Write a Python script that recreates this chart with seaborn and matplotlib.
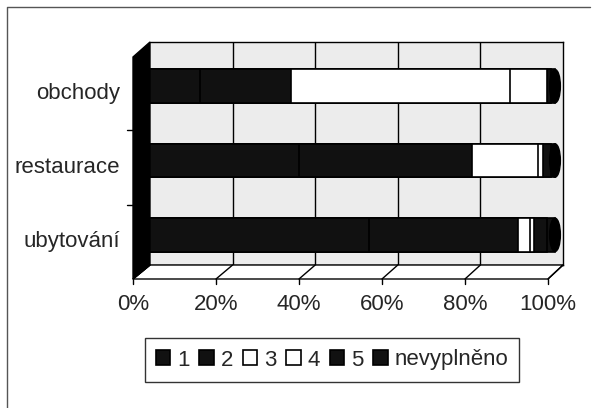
import numpy as np
import pandas as pd
import seaborn as sns
import matplotlib.pyplot as plt
from matplotlib.patches import Patch, Polygon, Ellipse
from matplotlib.transforms import ScaledTranslation, blended_transform_factory

# Data (share of answers in %)
categories = ["obchody", "restaurace", "ubytování"]
series = ["1", "2", "3", "4", "5", "nevyplněno"]
v1 = [14, 38, 55]
v2 = [22, 42, 36]
v3 = [53, 16, 3]
v4 = [9, 1, 1]
v5 = [1, 2, 3]
v_nev = [1, 1, 2]
colors = ["#111111", "#111111", "#ffffff", "#ffffff", "#111111", "#111111"]
xticks = [0, 20, 40, 60, 80, 100]

sns.set_style("white")
plt.rcParams["font.family"] = ["Liberation Sans", "DejaVu Sans"]

fig = plt.figure(figsize=(5.96, 4.08), dpi=100)
# back wall of the 3D chart
ax = fig.add_axes([150 / 596, (408 - 265) / 408, 413 / 596, 223 / 408])
ax.set_facecolor("#ececec")

vals = np.array([v1, v2, v3, v4, v5, v_nev])
cum = vals.cumsum(axis=0)

# stacked bars: draw cumulative totals from the longest to the shortest
for i in range(len(series) - 1, -1, -1):
    df = pd.DataFrame({"cat": categories, "val": cum[i]})
    sns.barplot(data=df, x="val", y="cat", orient="h", color=colors[i],
                width=0.45, edgecolor="black", linewidth=1.2, ax=ax,
                saturation=1, zorder=3)

px = fig.dpi_scale_trans
bar_shift = ScaledTranslation(-8 / 100, -7 / 100, px)
for p in ax.patches:
    p.set_transform(ax.transData + bar_shift)
    p.set_clip_on(False)

# rounded ends of the cylinders
for j in range(len(categories)):
    e = Ellipse((100, j), 2.6, 0.45, facecolor="black", edgecolor="black",
                zorder=4, clip_on=False, transform=ax.transData + bar_shift)
    ax.add_patch(e)

ax.set_xlim(0, 100)
ax.set_ylim(2.5, -0.5)
for x in xticks[1:-1]:
    ax.axvline(x, color="black", lw=1, zorder=1)
for s in ["top", "right", "bottom"]:
    ax.spines[s].set_color("black")
    ax.spines[s].set_linewidth(1)
ax.spines["left"].set_visible(False)
ax.set_xticks([])
ax.set_yticks([])
ax.set_xlabel("")
ax.set_ylabel("")

# floor and left wall drawn in figure pixels
def fpx(x, y):
    return (x / 596, (408 - y) / 408)

floor = Polygon([fpx(150, 265), fpx(563, 265), fpx(548, 279), fpx(133, 279)],
                closed=True, facecolor="white", edgecolor="black", lw=1,
                transform=fig.transFigure)
fig.add_artist(floor)
for k, x in enumerate(xticks):
    xb = 150 + 413 * x / 100
    xf = 133 + 415 * x / 100
    fig.add_artist(plt.Line2D(*zip(fpx(xb, 265), fpx(xf, 279)), color="black",
                              lw=1, transform=fig.transFigure))
    fig.add_artist(plt.Line2D(*zip(fpx(xf, 279), fpx(xf, 284)), color="black",
                              lw=1, transform=fig.transFigure))
    fig.text(*fpx(xf, 305), f"{x}%", ha="center", va="center", fontsize=16)

wall = Polygon([fpx(133, 57), fpx(150, 42), fpx(150, 265), fpx(133, 279)],
               closed=True, facecolor="black", edgecolor="black", lw=1,
               transform=fig.transFigure)
fig.add_artist(wall)

# category labels and ticks on the front edge
lab_shift = ScaledTranslation(-30 / 100, -14 / 100, px)
tr = blended_transform_factory(ax.transAxes, ax.transData) + lab_shift
for j, c in enumerate(categories):
    ax.text(0, j, c, transform=tr, ha="right", va="center", fontsize=16)
for y in [130, 205]:
    fig.add_artist(plt.Line2D(*zip(fpx(127, y), fpx(133, y)), color="black",
                              lw=1, transform=fig.transFigure))

# legend
handles = [Patch(facecolor=c, edgecolor="black", lw=1.2) for c in colors]
leg = fig.legend(handles, series, loc="center", bbox_to_anchor=fpx(332, 360),
                 ncol=6, fontsize=16, handlelength=0.65, handleheight=0.65,
                 handletextpad=0.3, columnspacing=0.45, frameon=True,
                 fancybox=False, borderpad=0.5)
leg.get_frame().set_edgecolor("black")
leg.get_frame().set_linewidth(1)

# chart border
fig.add_artist(plt.Line2D([7 / 596, 7 / 596, 590 / 596],
                          [0, (408 - 7) / 408, (408 - 7) / 408],
                          color="#555555", lw=1, transform=fig.transFigure))

fig.savefig("out.png", dpi=100)
